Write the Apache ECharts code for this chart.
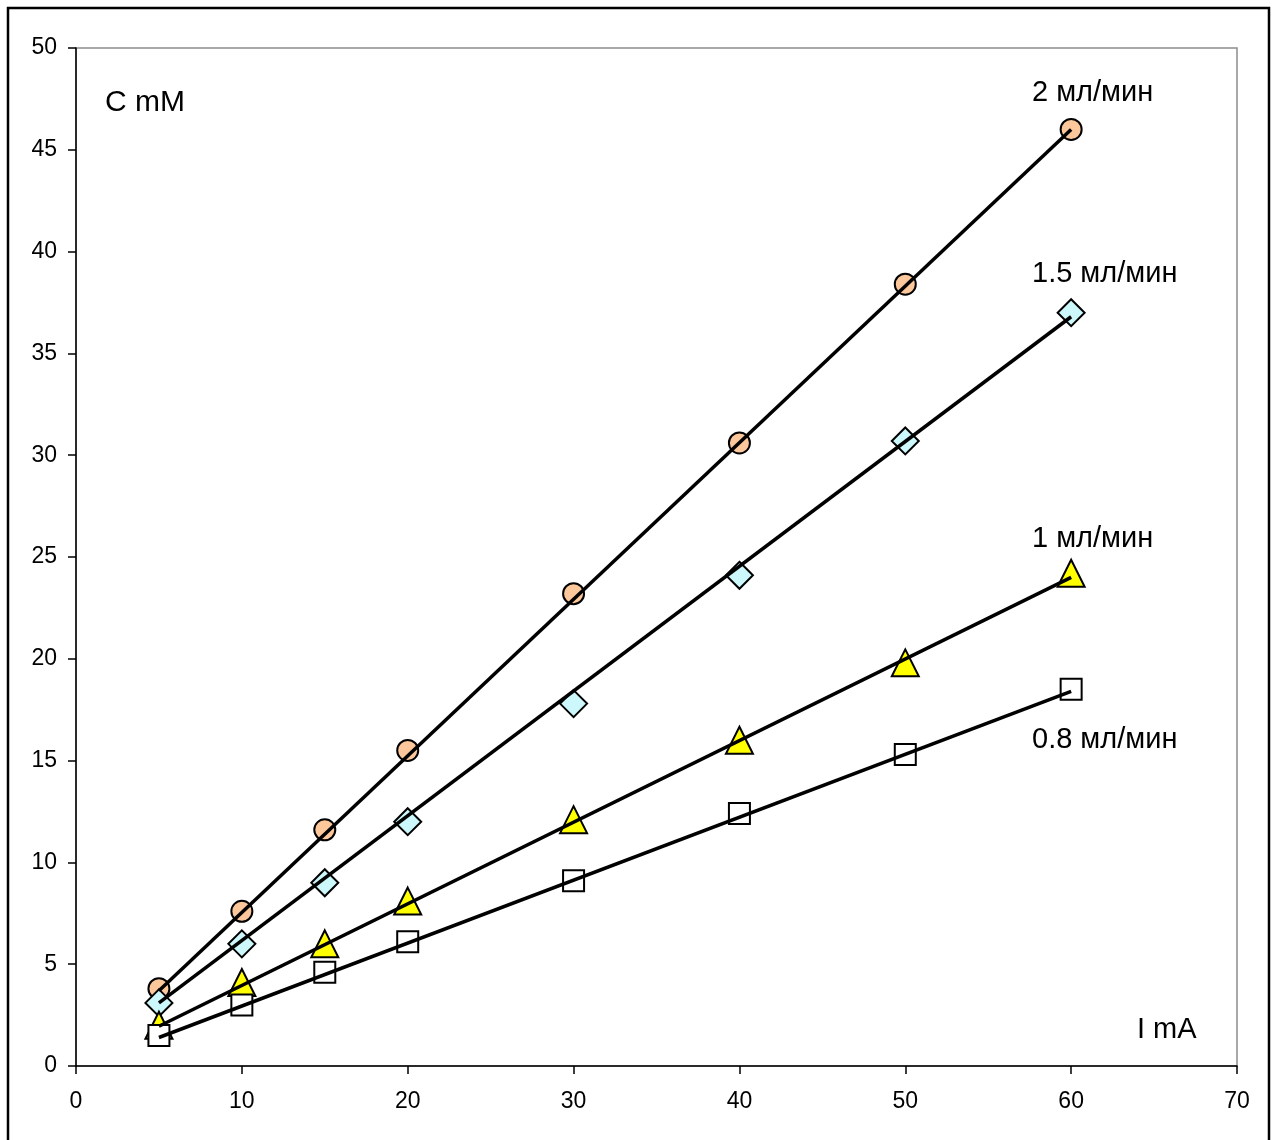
<!DOCTYPE html>
<html>
<head>
<meta charset="utf-8">
<script src="https://cdn.jsdelivr.net/npm/echarts@6/dist/echarts.min.js"></script>
<style>
  html, body { margin: 0; padding: 0; background: #fff; }
  #chart { width: 1274px; height: 1140px; }
</style>
</head>
<body>
<div id="chart"></div>
<script>
  // current, mA
  let xValues = [5, 10, 15, 20, 30, 40, 50, 60];
  // concentration, mM, by flow rate
  let flow2 = [3.8, 7.6, 11.6, 15.5, 23.2, 30.6, 38.4, 46.0];
  let flow15 = [3.1, 6.0, 9.0, 12.0, 17.8, 24.1, 30.7, 37.0];
  let flow1 = [2.0, 4.1, 6.0, 8.1, 12.1, 16.0, 19.8, 24.2];
  let flow08 = [1.5, 3.0, 4.6, 6.1, 9.1, 12.4, 15.3, 18.5];
  // trend lines, read at x = 5 and x = 60
  let trendX = [5, 60];
  let trend2 = [3.7, 46.0];
  let trend15 = [3.1, 36.8];
  let trend1 = [1.95, 24.0];
  let trend08 = [1.4, 18.4];
  let names = ['2 мл/мин', '1.5 мл/мин', '1 мл/мин', '0.8 мл/мин'];

  let chart = echarts.init(document.getElementById('chart'));
  let font = '"Liberation Sans", Arial, sans-serif';

  function pts(ys, xs) {
    let out = [];
    for (let i = 0; i < ys.length; i++) out.push([xs[i], ys[i]]);
    return out;
  }
  function dots(name, data, symbol, size, color) {
    return {
      name: name,
      type: 'scatter',
      data: pts(data, xValues),
      symbol: symbol,
      symbolSize: size,
      z: 2,
      itemStyle: { color: color, borderColor: '#000', borderWidth: 2, opacity: 1 }
    };
  }
  function trend(data) {
    return {
      type: 'line',
      data: pts(data, trendX),
      showSymbol: false,
      symbol: 'none',
      z: 3,
      lineStyle: { color: '#000', width: 3.5 }
    };
  }

  let axisCommon = {
    axisLine: { show: true, lineStyle: { color: '#000', width: 1.5 } },
    axisTick: { show: true, inside: false, length: 8, lineStyle: { color: '#000', width: 1.5 } },
    splitLine: { show: false },
    axisLabel: { color: '#000', fontSize: 23, fontFamily: font }
  };

  let option = {
    backgroundColor: '#fff',
    animation: false,
    grid: {
      left: 76, right: 37, top: 48, bottom: 74,
      show: true, borderColor: '#8c8c8c', borderWidth: 1.5, backgroundColor: '#fff'
    },
    xAxis: Object.assign({}, axisCommon, {
      type: 'value', min: 0, max: 70, interval: 10,
      axisLabel: Object.assign({}, axisCommon.axisLabel, { margin: 24 })
    }),
    yAxis: Object.assign({}, axisCommon, {
      type: 'value', min: 0, max: 50, interval: 5,
      axisLabel: Object.assign({}, axisCommon.axisLabel, { margin: 19 })
    }),
    series: [
      dots(names[0], flow2, 'circle', 21, '#fcc89b'),
      dots(names[1], flow15, 'diamond', 27, '#ccf7fb'),
      dots(names[2], flow1, 'triangle', 27, '#ffff00'),
      dots(names[3], flow08, 'rect', 21, '#ffffff'),
      trend(trend2), trend(trend15), trend(trend1), trend(trend08)
    ],
    graphic: [
      { type: 'rect', shape: { x: 8, y: 8, width: 1261, height: 1140 },
        style: { fill: 'none', stroke: '#000', lineWidth: 2.5 }, z: 10 },
      { type: 'text', left: 105, top: 88, style: { text: 'C mM', fontSize: 30, fontFamily: font, fill: '#000' } },
      { type: 'text', left: 1137, top: 1015, style: { text: 'I mA', fontSize: 29, fontFamily: font, fill: '#000' } },
      { type: 'text', left: 1032, top: 78, style: { text: names[0], fontSize: 29, fontFamily: font, fill: '#000' } },
      { type: 'text', left: 1032, top: 259, style: { text: names[1], fontSize: 29, fontFamily: font, fill: '#000' } },
      { type: 'text', left: 1032, top: 524, style: { text: names[2], fontSize: 29, fontFamily: font, fill: '#000' } },
      { type: 'text', left: 1032, top: 725, style: { text: names[3], fontSize: 29, fontFamily: font, fill: '#000' } }
    ]
  };
  chart.setOption(option);
</script>
</body>
</html>
